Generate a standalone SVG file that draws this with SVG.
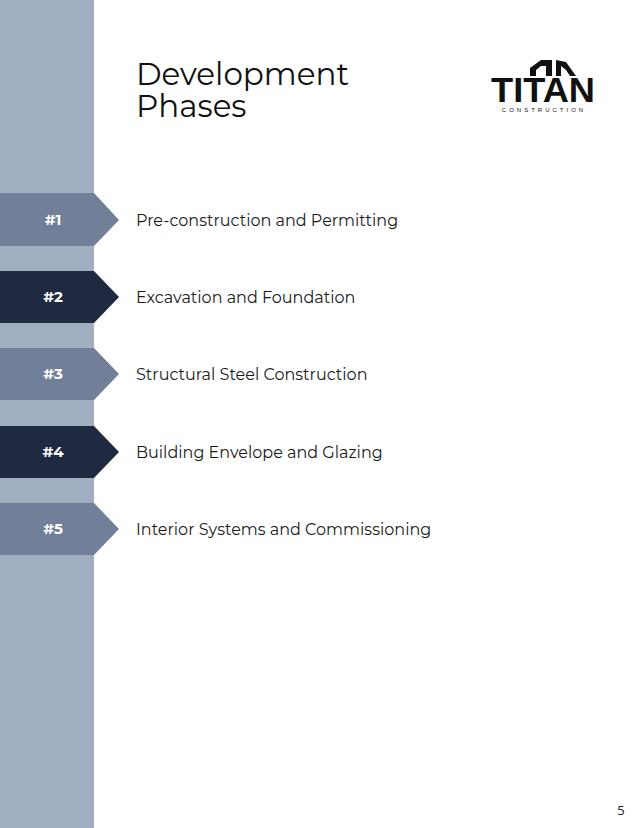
<svg xmlns="http://www.w3.org/2000/svg" width="640" height="828" viewBox="0 0 640 828">
<style>
.lbl{font-family:Montserrat,"Open Sans","Liberation Sans",sans-serif;font-size:16px;fill:#1a1a1a}
.num{font-family:Montserrat,"Open Sans","Liberation Sans",sans-serif;font-size:15px;font-weight:bold;fill:#fff}
.mid{fill:#718098}.dark{fill:#1f2a40}
</style>
<rect width="640" height="828" fill="#fff"/>
<rect x="0" y="0" width="94" height="828" fill="#a1aec0"/>
<text x="136" y="85" font-family="Montserrat,'Open Sans','Liberation Sans',sans-serif" font-size="31" fill="#111">Development</text>
<text x="136" y="117" font-family="Montserrat,'Open Sans','Liberation Sans',sans-serif" font-size="31" fill="#111">Phases</text>
<g id="logo" fill="#111">
<polygon points="530,76 530,68 541,60 552,60 552,76 546,76 546,66 541,66 536,70 536,76"/>
<polygon points="556,60 556,76 561,76 561,66 566,70 570,76 576,76 566,62"/>
<text x="543" y="102" text-anchor="middle" font-family="'Liberation Sans',sans-serif" font-weight="bold" font-size="35" textLength="104" lengthAdjust="spacingAndGlyphs">TITAN</text>
<text x="544" y="112" text-anchor="middle" font-family="'Liberation Sans',sans-serif" font-size="6" letter-spacing="3">CONSTRUCTION</text>
</g>
<g id="p1"><polygon class="mid" points="0,193 94,193 119,220 94,246 0,246"/><text class="num" x="53" y="225" text-anchor="middle">#1</text><text class="lbl" x="136" y="226">Pre-construction and Permitting</text></g>
<g id="p2"><polygon class="dark" points="0,271 94,271 119,297 94,323 0,323"/><text class="num" x="53" y="302" text-anchor="middle">#2</text><text class="lbl" x="136" y="303">Excavation and Foundation</text></g>
<g id="p3"><polygon class="mid" points="0,348 94,348 119,374 94,400 0,400"/><text class="num" x="53" y="379" text-anchor="middle">#3</text><text class="lbl" x="136" y="380">Structural Steel Construction</text></g>
<g id="p4"><polygon class="dark" points="0,426 94,426 119,452 94,478 0,478"/><text class="num" x="53" y="457" text-anchor="middle">#4</text><text class="lbl" x="136" y="458">Building Envelope and Glazing</text></g>
<g id="p5"><polygon class="mid" points="0,503 94,503 119,529 94,555 0,555"/><text class="num" x="53" y="534" text-anchor="middle">#5</text><text class="lbl" x="136" y="535">Interior Systems and Commissioning</text></g>
<g id="connectors"/>
<text x="621" y="815" text-anchor="middle" font-family="'Open Sans','Liberation Sans',sans-serif" font-size="13" fill="#222">5</text>
</svg>
